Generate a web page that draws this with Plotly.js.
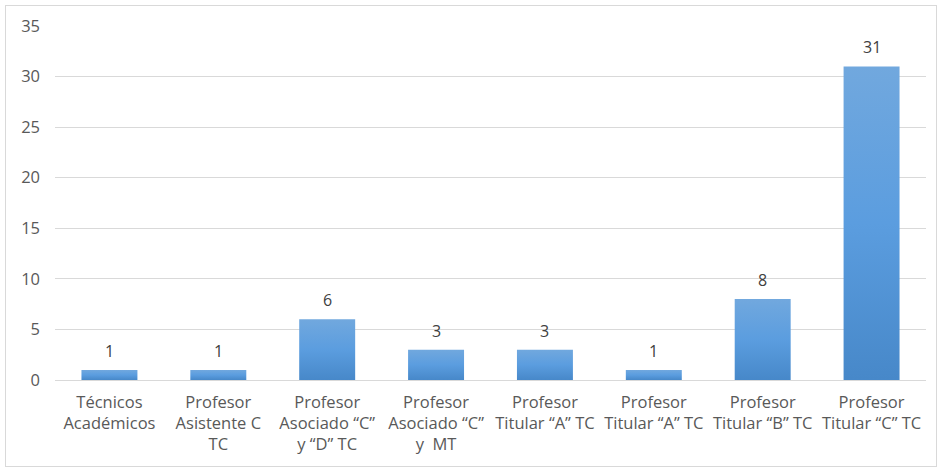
<!DOCTYPE html>
<html>
<head>
<meta charset="utf-8">
<script src="https://cdn.plot.ly/plotly-3.0.1.min.js"></script>
<style>
html,body{margin:0;padding:0;background:#fff;}
#chart{width:941px;height:472px;}
#frame{position:absolute;left:5px;top:5px;width:930px;height:460px;border:1px solid #d9d9d9;pointer-events:none;}
</style>
</head>
<body>
<div id="chart"></div>
<div id="frame"></div>
<script>
const categories = [
  "Técnicos<br>Académicos",
  "Profesor<br>Asistente C<br>TC",
  "Profesor<br>Asociado “C”<br>y “D” TC",
  "Profesor<br>Asociado “C”<br>y  MT",
  "Profesor<br>Titular “A” TC",
  "Profesor<br>Titular “A” TC",
  "Profesor<br>Titular “B” TC",
  "Profesor<br>Titular “C” TC"
];
const values = [1, 1, 6, 3, 3, 1, 8, 31];
const yTicks = [0, 5, 10, 15, 20, 25, 30, 35];

const xIdx = categories.map((_, i) => i);
const FONT = 'Open Sans, sans-serif';

const trace = {
  type: 'bar',
  x: xIdx,
  y: values,
  marker: {color: '#5b9bd5', line: {width: 0}},
  hoverinfo: 'none'
};

const labels = values.map((v, i) => ({
  x: i, y: v, xref: 'x', yref: 'y',
  text: String(v), showarrow: false,
  yanchor: 'bottom', yshift: 6,
  font: {family: FONT, size: 16, color: '#404040'}
}));

const layout = {
  width: 941, height: 472,
  margin: {l: 55, r: 15, t: 26, b: 92},
  paper_bgcolor: '#ffffff',
  plot_bgcolor: '#ffffff',
  bargap: 0.486,
  showlegend: false,
  font: {family: FONT, color: '#595959', size: 16},
  annotations: labels,
  xaxis: {
    tickmode: 'array',
    tickvals: xIdx,
    ticktext: categories,
    range: [-0.5, categories.length - 0.5],
    showgrid: false,
    zeroline: false,
    showline: false,
    ticks: '',
    ticklabelstandoff: 10,
    tickfont: {family: FONT, size: 16.5, color: '#595959'}
  },
  yaxis: {
    range: [0, 35],
    tickmode: 'array',
    tickvals: yTicks,
    showgrid: true,
    gridcolor: '#d9d9d9',
    gridwidth: 1,
    zeroline: true,
    zerolinecolor: '#d9d9d9',
    zerolinewidth: 1,
    showline: false,
    ticks: '',
    ticklabelstandoff: 14,
    tickfont: {family: FONT, size: 16.5, color: '#595959'}
  }
};

Plotly.newPlot('chart', [trace], layout, {staticPlot: true, displayModeBar: false}).then(gd => {
  const svg = gd.querySelector('svg.main-svg');
  const ns = 'http://www.w3.org/2000/svg';
  let defs = svg.querySelector('defs');
  if (!defs) { defs = document.createElementNS(ns, 'defs'); svg.insertBefore(defs, svg.firstChild); }
  const g = document.createElementNS(ns, 'linearGradient');
  g.setAttribute('id', 'barGrad');
  g.setAttribute('x1', '0'); g.setAttribute('y1', '0');
  g.setAttribute('x2', '0'); g.setAttribute('y2', '1');
  [['0', '#71a8de'], ['0.5', '#5b9ddf'], ['1', '#4788c9']].forEach(([o, c]) => {
    const s = document.createElementNS(ns, 'stop');
    s.setAttribute('offset', o); s.setAttribute('stop-color', c);
    g.appendChild(s);
  });
  defs.appendChild(g);
  gd.querySelectorAll('.bars .point path').forEach(p => { p.style.fill = 'url(#barGrad)'; });
});
</script>
</body>
</html>
